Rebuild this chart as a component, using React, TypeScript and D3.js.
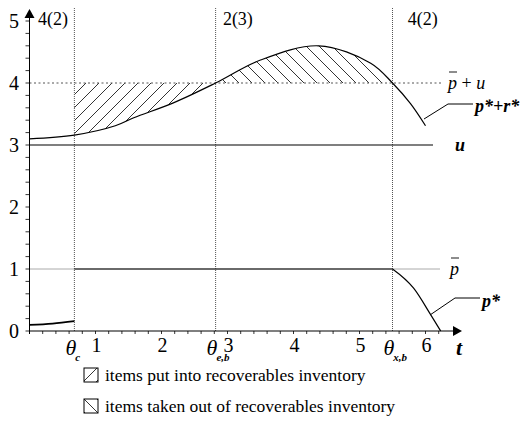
import React from "react";
import * as d3 from "d3";

// Time axis (t) and value axis
const xTicks = [1, 2, 3, 4, 5, 6];
const yTicks = [0, 1, 2, 3, 4, 5];

// Regime boundaries
const thetaC = 0.68;
const thetaEB = 2.82;
const thetaXB = 5.5;

// Reference levels
const pBar = 1;
const uLevel = 3;
const pBarPlusU = 4;

// p* + r* (sampled)
const prT = [0, 0.68, 1.3, 1.58, 2.18, 2.82, 3.5, 4.38, 5.17, 5.5, 5.77, 6.0];
const prV = [3.1, 3.16, 3.31, 3.44, 3.68, 4.0, 4.37, 4.6, 4.32, 4.0, 3.67, 3.31];

// p* (sampled): first segment, plateau at p-bar, final drop
const pLowT = [0, 0.35, 0.68];
const pLowV = [0.1, 0.12, 0.16];
const pDropT = [5.5, 5.82, 6.08, 6.23];
const pDropV = [1.0, 0.69, 0.26, 0.0];

// Regime labels at the top
const regimeLabels = [
  { t: 0.13, text: "4(2)" },
  { t: thetaEB + 0.11, text: "2(3)" },
  { t: thetaXB + 0.23, text: "4(2)" },
];

const legendItems = [
  { pattern: "hatchFwd", text: "items put into recoverables inventory" },
  { pattern: "hatchBack", text: "items taken out of recoverables inventory" },
];

const W = 523;
const H = 428;

export default function App() {
  const x = d3.scaleLinear().domain([0, 1]).range([29.5, 95.5]);
  const y = d3.scaleLinear().domain([0, 5]).range([331, 21]);

  const x0 = x(0);
  const y0 = y(0);
  const axisRight = 453;
  const axisTop = 9;

  const prPts: [number, number][] = prT.map((t, i) => [t, prV[i]]);
  const curve = d3.curveCatmullRom.alpha(0.5);
  const prLine = d3
    .line<[number, number]>()
    .x((d) => x(d[0]))
    .y((d) => y(d[1]))
    .curve(curve)(prPts) as string;

  const prArea = d3
    .area<[number, number]>()
    .x((d) => x(d[0]))
    .y0(y(pBarPlusU))
    .y1((d) => y(d[1]))
    .curve(curve)(prPts) as string;

  const lowLine = d3
    .line<[number, number]>()
    .x((d) => x(d[0]))
    .y((d) => y(d[1]))
    .curve(d3.curveMonotoneX)(pLowT.map((t, i) => [t, pLowV[i]])) as string;

  const dropLine = d3
    .line<[number, number]>()
    .x((d) => x(d[0]))
    .y((d) => y(d[1]))
    .curve(d3.curveMonotoneX)(pDropT.map((t, i) => [t, pDropV[i]])) as string;

  const minorY = d3.range(0, 5.001, 0.2);
  const minorX = d3.range(0.2, 6.201, 0.2);

  const serif = "'Liberation Serif', 'Times New Roman', Times, serif";

  const thetaLabels = [
    { t: thetaC, sub: "c" },
    { t: thetaEB, sub: "e,b" },
    { t: thetaXB, sub: "x,b" },
  ];

  return (
    <svg
      width={W}
      height={H}
      style={{ position: "absolute", left: 0, top: 0, fontFamily: serif }}
    >
      <defs>
        <pattern id="hatchFwd" patternUnits="userSpaceOnUse" width={13} height={13}>
          <path d="M-2,2 L2,-2 M0,13 L13,0 M11,15 L15,11" stroke="#000" strokeWidth={0.8} />
        </pattern>
        <pattern id="hatchBack" patternUnits="userSpaceOnUse" width={13} height={13}>
          <path d="M-2,11 L2,15 M0,0 L13,13 M11,-2 L15,2" stroke="#000" strokeWidth={0.8} />
        </pattern>
        <clipPath id="clipIn">
          <rect x={x(thetaC)} y={0} width={x(thetaEB) - x(thetaC)} height={H} />
        </clipPath>
        <clipPath id="clipOut">
          <rect x={x(thetaEB)} y={0} width={x(thetaXB) - x(thetaEB)} height={H} />
        </clipPath>
      </defs>

      <rect width={W} height={H} fill="#fff" />

      {/* hatched inventory regions */}
      <path d={prArea} fill="url(#hatchFwd)" clipPath="url(#clipIn)" />
      <path d={prArea} fill="url(#hatchBack)" clipPath="url(#clipOut)" />

      {/* regime boundaries */}
      {[thetaC, thetaEB, thetaXB].map((t, i) => (
        <line key={i} x1={x(t)} x2={x(t)} y1={8} y2={y0} stroke="#555" strokeWidth={1} strokeDasharray="1,1" />
      ))}

      {/* dotted reference levels */}
      <line x1={x0} x2={443} y1={y(pBarPlusU)} y2={y(pBarPlusU)} stroke="#555" strokeDasharray="2,2.5" />
      <line x1={x0} x2={440} y1={y(pBar)} y2={y(pBar)} stroke="#555" strokeDasharray="1,1" />

      {/* u level */}
      <line x1={x0} x2={433} y1={y(uLevel)} y2={y(uLevel)} stroke="#000" strokeWidth={1.2} />

      {/* p* + r* */}
      <path d={prLine} fill="none" stroke="#000" strokeWidth={1.2} />

      {/* p* */}
      <path d={lowLine} fill="none" stroke="#000" strokeWidth={1.8} />
      <line x1={x(thetaC)} x2={x(thetaXB)} y1={y(pBar)} y2={y(pBar)} stroke="#000" strokeWidth={1.2} />
      <path d={dropLine} fill="none" stroke="#000" strokeWidth={1.2} />

      {/* axes */}
      <line x1={x0} x2={axisRight} y1={y0} y2={y0} stroke="#000" strokeWidth={1} />
      <line x1={x0} x2={x0} y1={y0 + 3} y2={axisTop + 6} stroke="#000" strokeWidth={1} />
      <path d={`M${axisRight},${y0 - 5} L${axisRight + 9},${y0} L${axisRight},${y0 + 5} Z`} fill="#000" />
      <path d={`M${x0 - 5},${axisTop + 9} L${x0},${axisTop} L${x0 + 5},${axisTop + 9} Z`} fill="#000" />

      {minorY.map((v, i) => (
        <line key={"yt" + i} x1={x0 - 4} x2={x0} y1={y(v)} y2={y(v)} stroke="#000" strokeWidth={0.8} />
      ))}
      {minorX.map((v, i) => (
        <line key={"xt" + i} x1={x(v)} x2={x(v)} y1={y0} y2={y0 + 3} stroke="#000" strokeWidth={0.8} />
      ))}

      {yTicks.map((v) => (
        <text key={"yl" + v} x={19} y={y(v) + 7} fontSize={20} textAnchor="end">
          {v}
        </text>
      ))}
      {xTicks.map((v) => (
        <text key={"xl" + v} x={x(v) + 1} y={y0 + 21} fontSize={20} textAnchor="middle">
          {v}
        </text>
      ))}

      {/* theta labels */}
      {thetaLabels.map((d, i) => (
        <text key={"th" + i} x={x(d.t) - 9} y={y0 + 24} fontSize={22} fontStyle="italic">
          θ
          <tspan fontSize={11} fontWeight="bold" dy={6} dx={-1}>
            {d.sub}
          </tspan>
        </text>
      ))}
      <text x={456} y={y0 + 24} fontSize={22} fontStyle="italic" fontWeight="bold">
        t
      </text>

      {/* regime labels */}
      {regimeLabels.map((d, i) => (
        <text key={"rg" + i} x={x(d.t)} y={25} fontSize={18}>
          {d.text}
        </text>
      ))}

      {/* series labels */}
      <text x={448} y={y(pBarPlusU) + 6} fontSize={18}>
        <tspan fontStyle="italic">p</tspan> + <tspan fontStyle="italic">u</tspan>
      </text>
      <line x1={449} x2={457} y1={y(pBarPlusU) - 11} y2={y(pBarPlusU) - 11} stroke="#000" strokeWidth={0.9} />

      <text x={450} y={y(pBar) + 6} fontSize={18} fontStyle="italic">
        p
      </text>
      <line x1={451} x2={459} y1={y(pBar) - 11} y2={y(pBar) - 11} stroke="#000" strokeWidth={0.9} />

      <path d="M424,119 L448,104 L473,104" fill="none" stroke="#000" strokeWidth={1} />
      <text x={475} y={112} fontSize={18} fontStyle="italic" fontWeight="bold">
        p*+r*
      </text>

      <text x={455} y={y(uLevel) + 6} fontSize={18} fontStyle="italic" fontWeight="bold">
        u
      </text>

      <path d="M430,315 L455,298 L480,298" fill="none" stroke="#000" strokeWidth={1} />
      <text x={482} y={307} fontSize={18} fontStyle="italic" fontWeight="bold">
        p*
      </text>

      {/* legend */}
      {legendItems.map((d, i) => (
        <g key={"lg" + i} transform={`translate(84, ${368 + i * 31})`}>
          <rect x={0} y={0} width={14} height={14} fill={`url(#${d.pattern})`} stroke="#000" strokeWidth={1} />
          <text x={21} y={13} fontSize={17.5}>
            {d.text}
          </text>
        </g>
      ))}
    </svg>
  );
}
